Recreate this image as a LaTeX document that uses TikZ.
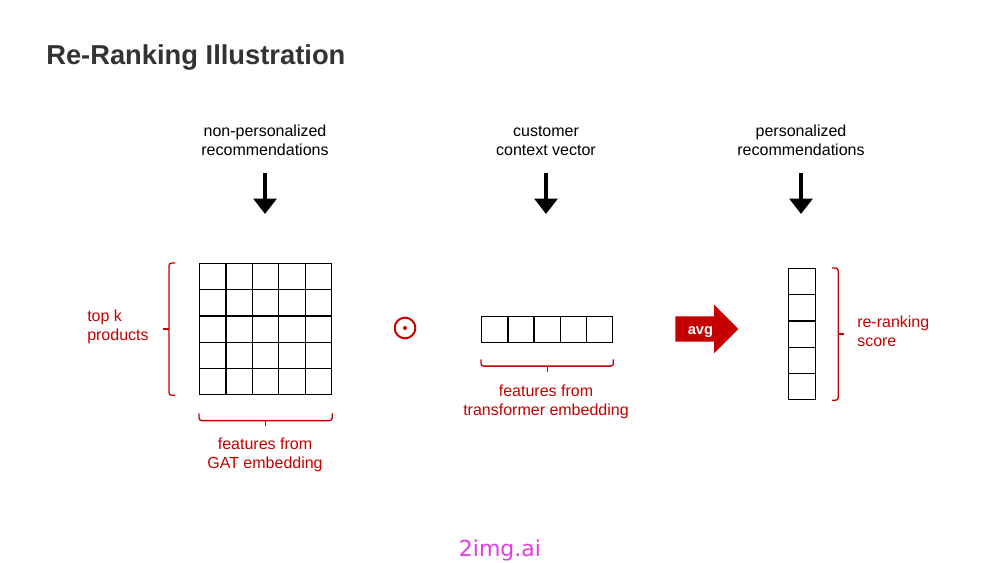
\documentclass[tikz,border=0pt]{standalone}
\usepackage{fontspec}
\setmainfont{Liberation Sans}
\newfontfamily\markfont{DejaVu Sans}
\usetikzlibrary{arrows.meta,shapes.arrows,positioning}
\definecolor{rred}{HTML}{C40000}
\definecolor{titlegray}{HTML}{333333}
\definecolor{markpink}{HTML}{E43BE4}
\tikzset{
	cell/.style={draw,line width=0.9pt,inner sep=0pt,anchor=north west,minimum width=19.8pt,minimum height=19.7pt},
	txt/.style={align=center,inner sep=0pt,font=\fontsize{12}{14.3}\selectfont},
	redtxt/.style={txt,text=rred},
	down/.style={line width=2.8pt,-{Triangle[width=17pt,length=11.5pt]}},
	rbrace/.style={draw=rred,line width=1pt,rounded corners=2pt},
}
\begin{document}
\begin{tikzpicture}[x=0.75pt,y=-0.75pt]
	\useasboundingbox[fill=white] (0,0) rectangle (1000,563);
	\node[anchor=base west,inner sep=0pt,text=titlegray,font=\fontsize{20.5}{24}\selectfont\bfseries] (title) at (46,65) {Re-Ranking Illustration};
	\node[txt] (np) at (265,140.5) {non-personalized\\recommendations};
	\node[txt] (cc) at (546,140.5) {customer\\context vector};
	\node[txt] (pr) at (801,140.5) {personalized\\recommendations};
	\foreach \n/\xx in {np/265,cc/546,pr/801}{
		\coordinate (\n-tail) at (\xx,173);
		\coordinate (\n-tip) at (\xx,214);
		\draw[down] (\n-tail) -- (\n-tip);
	}
	\foreach \r in {0,...,4}
		\foreach \c in {0,...,4}
			\node[cell] (g\r\c) at ({199+26.4*\c},{263+26.2*\r}) {};
	\foreach \c in {0,...,4}
		\node[cell] (v\c) at ({481+26.2*\c},316) {};
	\foreach \r in {0,...,4}
		\node[cell,minimum width=20.25pt] (s\r) at (788,{268+26.2*\r}) {};
	\draw[rbrace] ([xshift=-18pt]g00.north west) -- ++(-4.5pt,0pt) -- ([xshift=-22.5pt]g40.south west) -- ++(4.5pt,0pt);
	\draw[rbrace] ([xshift=-22.5pt]g20.west) -- ++(-4.5pt,0pt);
	\draw[rbrace] ([yshift=-13.5pt]g40.south west) -- ++(0pt,-5.5pt) -- ([yshift=-19pt]g44.south east) -- ++(0pt,5.5pt);
	\draw[rbrace] ([yshift=-19pt]g42.south) -- ++(0pt,-4pt);
	\draw[rbrace] ([yshift=-12pt]v0.south west) -- ++(0pt,-5pt) -- ([yshift=-17pt]v4.south east) -- ++(0pt,5pt);
	\draw[rbrace] ([yshift=-17pt]v2.south) -- ++(0pt,-4.5pt);
	\draw[rbrace] ([xshift=12pt]s0.north east) -- ++(4.5pt,0pt) -- ([xshift=16.5pt]s4.south east) -- ++(-4.5pt,0pt);
	\draw[rbrace] ([xshift=16.5pt]s2.east) -- ++(4.5pt,0pt);
	\node[redtxt,anchor=west,align=left] (topk) at (87,327) {top k\\products};
	\node[redtxt] (gat) at (265,455) {features from\\GAT embedding};
	\node[redtxt] (trf) at (546,402) {features from\\transformer embedding};
	\node[redtxt,anchor=west,align=left] (score) at (857,331) {re-ranking\\score};
	\node[circle,draw=rred,line width=1.5pt,minimum size=15.5pt,inner sep=0pt] (dot) at (405,328) {};
	\fill[rred] (dot.center) circle (1.5pt);
	\node[single arrow,fill=rred,text=white,font=\fontsize{11}{13}\selectfont\bfseries,
		text height=8.3pt,text depth=0pt,inner ysep=5.2pt,inner xsep=2pt,anchor=tail,
		minimum height=47.25pt,single arrow head extend=8.6pt,single arrow head indent=0pt] (avg) at (675,329) {avg};
	\node[font=\markfont\fontsize{16.5}{20}\selectfont,text=markpink] (mark) at (500,550) {2img.ai};
\end{tikzpicture}
\end{document}
